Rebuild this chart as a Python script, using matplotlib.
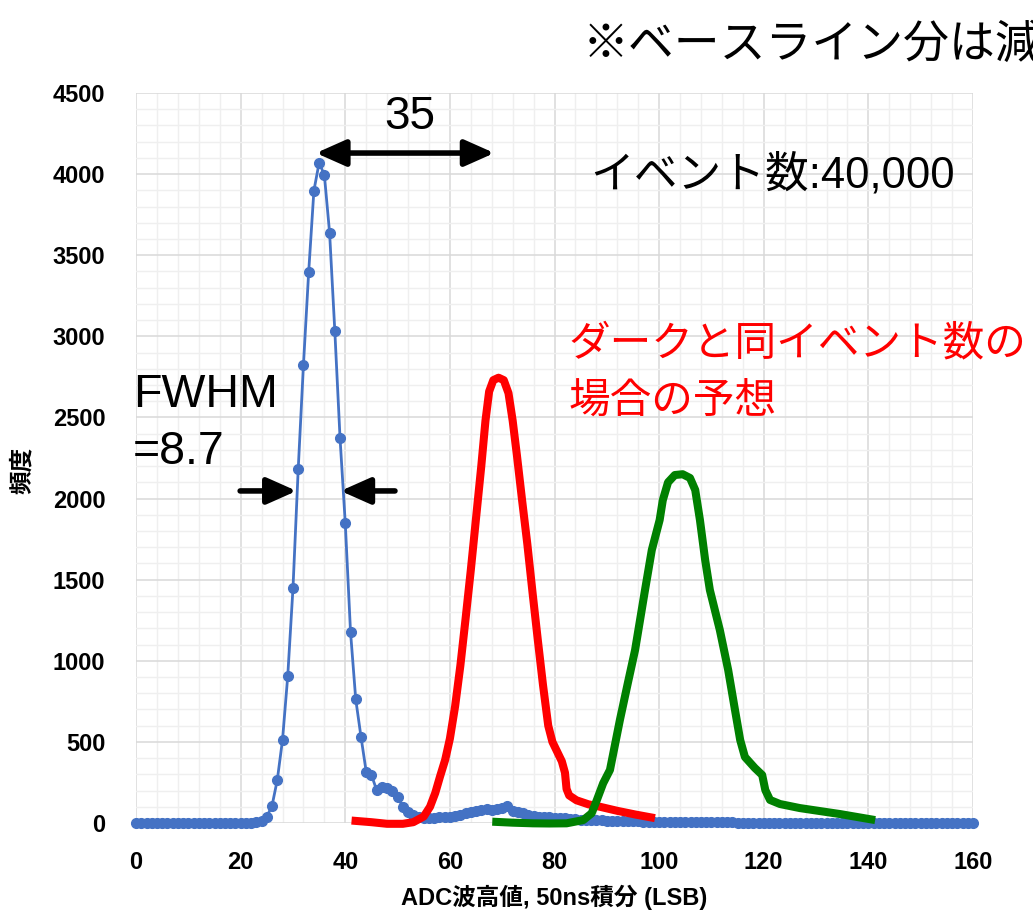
import matplotlib
matplotlib.use("Agg")
import matplotlib.pyplot as plt
from matplotlib.patches import FancyArrowPatch
from matplotlib.ticker import MultipleLocator

# measured spectrum (counts per ADC bin, bins 0..160)
adc = list(range(0, 161))
counts = ([0] * 22 +
          [3, 6, 14, 39, 107, 265, 512, 906, 1447, 2180,          # 22-31
           2823, 3395, 3898, 4070, 3995, 3639, 3033, 2371, 1847, 1179,  # 32-41
           762, 532, 316, 296, 203, 224, 215, 195, 160, 100,     # 42-51
           70, 50, 38, 30, 28, 28, 35, 38, 37, 45,               # 52-61
           52, 60, 68, 75, 80, 84, 80, 88, 95, 105,              # 62-71
           72, 70, 62, 50, 45, 40, 38, 35, 32, 30,               # 72-81
           28, 25, 23, 21, 20, 19, 18, 17, 15, 14,               # 82-91
           13, 12, 11, 10, 10, 9, 9, 8, 8, 7,                    # 92-101
           7, 6, 6, 6, 5, 5, 5, 5, 4, 4,                         # 102-111
           4, 4, 4, 3, 3, 3, 3, 3, 3] +                          # 112-120
          [2] * 20 + [1] * 20)

# hand drawn expectation curves
red_x = [41.2, 45, 48, 51, 53, 55, 56.2, 57.2, 58.1, 59.1, 60.0, 61.0, 62.0, 63.0,
         64.0, 65.0, 66.0, 66.8, 67.5, 68.3, 69.3, 70.3, 71.2, 72.0, 72.8, 73.8,
         74.8, 75.8, 76.8, 77.8, 78.8, 79.6, 80.5, 81.4, 82.0, 82.3, 82.8, 84.2,
         86.5, 88.7, 92, 95.5, 99.2]
red_y = [15, 5, -5, -5, 5, 40, 100, 185, 285, 390, 520, 720, 970, 1260,
         1560, 1880, 2200, 2480, 2660, 2730, 2745, 2730, 2650, 2480, 2270, 1990,
         1720, 1420, 1130, 850, 600, 500, 440, 380, 310, 210, 170, 140,
         115, 100, 75, 52, 30]

green_x = [68.1, 72, 75.9, 79, 82.3, 85.5, 87.1, 88.1, 89.3, 90.6, 92.5, 94.0,
           95.4, 97.3, 98.6, 100.1, 100.7, 101.7, 103.0, 104.5, 105.9, 106.9,
           107.8, 108.8, 109.7, 111.6, 113.2, 114.5, 115.5, 116.4, 118.3, 119.7,
           120.3, 121.2, 123.1, 126.9, 134.6, 141.3]
green_y = [8, 2, -2, -3, -2, 18, 60, 142, 245, 327, 635, 860,
           1066, 1436, 1683, 1868, 1990, 2100, 2145, 2150, 2127, 2053,
           1868, 1621, 1436, 1190, 943, 697, 511, 407, 339, 296,
           203, 142, 117, 92, 55, 18]

lat = ['Liberation Sans', 'Noto Sans CJK JP']
jp = ['Noto Sans CJK JP', 'DejaVu Sans']
plt.rcParams['font.family'] = lat

fig = plt.figure(figsize=(10.33, 9.11), dpi=100)
ax = fig.add_axes([0.1317, 0.0966, 0.8102, 0.8013])

ax.set_xlim(0, 160)
ax.set_ylim(0, 4500)
ax.xaxis.set_major_locator(MultipleLocator(20))
ax.xaxis.set_minor_locator(MultipleLocator(4))
ax.yaxis.set_major_locator(MultipleLocator(500))
ax.yaxis.set_minor_locator(MultipleLocator(100))
ax.grid(which='major', color='#d9d9d9', lw=1.1)
ax.grid(which='minor', color='#efefef', lw=1.0)
ax.set_axisbelow(True)
for s in ax.spines.values():
    s.set_visible(False)
ax.tick_params(which='both', length=0)
ax.tick_params(axis='y', pad=22, labelsize=17)
ax.tick_params(axis='x', pad=20, labelsize=17)
for lab in ax.get_xticklabels() + ax.get_yticklabels():
    lab.set_fontweight('bold')

# axis titles placed by hand, like the original slide
fig.text(0.536, 1 - 897 / 911, 'ADC波高値, 50ns積分 (LSB)', fontsize=17,
         fontweight='bold', ha='center', va='center',
         family=['Liberation Sans', 'Noto Sans CJK JP'])
fig.text(22 / 1033, 1 - 470 / 911, '頻度', fontsize=17, fontweight='bold',
         rotation=90, ha='center', va='center', family=jp)

ax.plot(adc, counts, color='#4472C4', lw=2, marker='o', ms=7, clip_on=False, zorder=3)
ax.plot(red_x, red_y, color='#ff0000', lw=5.8, solid_joinstyle='round',
        solid_capstyle='butt', clip_on=False, zorder=4)
ax.plot(green_x, green_y, color='#008000', lw=5.8, solid_joinstyle='round',
        solid_capstyle='butt', clip_on=False, zorder=4)


def arrow(x0, x1, y, style):
    a = FancyArrowPatch((x0, y), (x1, y), arrowstyle=style, mutation_scale=10,
                        color='black', lw=4, shrinkA=0, shrinkB=0, zorder=5)
    ax.add_patch(a)


arrow(34.4, 68.5, 4130, '<|-|>,head_length=1.8,head_width=0.8')
arrow(19.9, 30.7, 2047, '-|>,head_length=1.8,head_width=0.8')
arrow(49.5, 39.1, 2047, '-|>,head_length=1.8,head_width=0.8')

ax.text(52.4, 4352, '35', fontsize=33, ha='center', va='center')
ax.text(86.8, 3995, 'イベント数:40,000', fontsize=31.5, ha='left', va='center')
ax.text(-0.6, 2639, 'FWHM', fontsize=33.5, ha='left', va='center')
ax.text(-0.6, 2287, '=8.7', fontsize=33.5, ha='left', va='center')
ax.text(82.6, 2953, 'ダークと同イベント数の', fontsize=30, color='#ff0000',
        ha='left', va='center', family=jp)
ax.text(82.6, 2602, '場合の予想', fontsize=30, color='#ff0000',
        ha='left', va='center', family=jp)

# slide note, runs off the right edge in the original too
fig.text(583 / 1033, 1 - 45 / 911, '※ベースライン分は減算', fontsize=33, ha='left',
         va='center', family=jp)

fig.savefig('out.png', dpi=100)
